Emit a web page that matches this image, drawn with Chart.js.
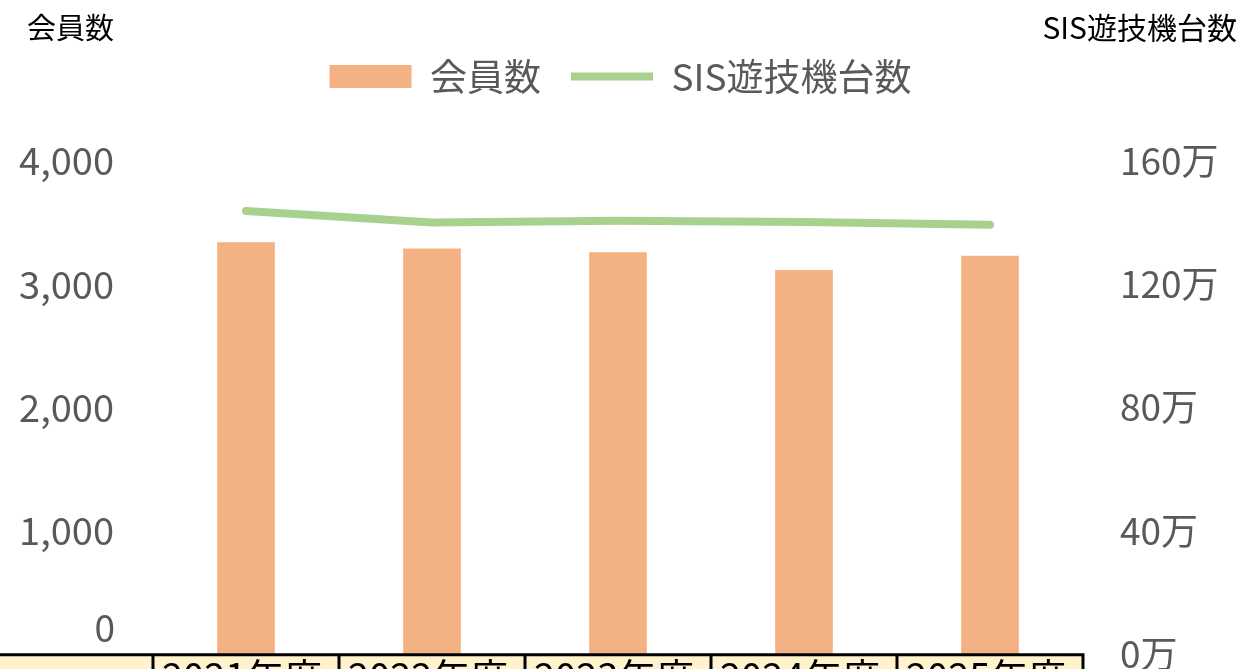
<!DOCTYPE html>
<html>
<head>
<meta charset="utf-8">
<script src="https://cdn.jsdelivr.net/npm/chart.js@4"></script>
<style>
  body { margin: 0; background: #fff; }
  canvas { display: block; }
</style>
</head>
<body>
<canvas id="memberChart" width="1241" height="669"></canvas>
<script>
var years = ['2021年度', '2022年度', '2023年度', '2024年度', '2025年度'];
var members = [3340, 3290, 3260, 3115, 3230];
var machines = [1438000, 1400000, 1406000, 1402000, 1393000];
var leftTicks = [0, 1000, 2000, 3000, 4000];
var rightTicks = [0, 400000, 800000, 1200000, 1600000];

var FONT = "'Noto Sans CJK JP', 'Noto Sans', sans-serif";

// axis captions, the shifted "0" and the half-visible data table at the bottom
var extras = {
  id: 'extras',
  afterDraw: function (chart) {
    var ctx = chart.ctx;
    var x = chart.scales.x;
    ctx.save();
    ctx.fillStyle = '#000';
    ctx.textBaseline = 'middle';
    ctx.textAlign = 'left';
    ctx.font = '29px ' + FONT;
    ctx.fillText('会員数', 27, 28);
    ctx.textAlign = 'right';
    ctx.font = '30px ' + FONT;
    ctx.fillText('SIS遊技機台数', 1237, 28);

    ctx.fillStyle = '#595959';
    ctx.font = '37px ' + FONT;
    ctx.fillText('0', 115, 628);

    var step = x.getPixelForValue(1) - x.getPixelForValue(0);
    var left0 = x.getPixelForValue(0) - step / 2;
    var right = x.getPixelForValue(years.length - 1) + step / 2;
    var top = chart.chartArea.bottom + 1;
    ctx.fillStyle = '#fff2cc';
    ctx.fillRect(0, top, right, 669 - top);

    ctx.fillStyle = '#000';
    ctx.font = '38px ' + FONT;
    ctx.textAlign = 'left';
    ctx.textBaseline = 'top';
    for (var j = 0; j < years.length; j++) {
      ctx.fillText(years[j], x.getPixelForValue(j) - step / 2 + 9, top + 3);
    }

    ctx.strokeStyle = '#000';
    ctx.lineWidth = 3;
    ctx.beginPath();
    ctx.moveTo(0, top);
    ctx.lineTo(right + 1.5, top);
    ctx.moveTo(left0, top);
    ctx.lineTo(left0, 669);
    for (var i = 0; i < years.length; i++) {
      var r = x.getPixelForValue(i) + step / 2;
      ctx.moveTo(r, top);
      ctx.lineTo(r, 669);
    }
    ctx.stroke();
    ctx.restore();
  }
};

var ctx = document.getElementById('memberChart').getContext('2d');
var chart = new Chart(ctx, {
  type: 'bar',
  data: {
    labels: years,
    datasets: [{
      type: 'line',
      label: 'SIS遊技機台数',
      data: machines,
      yAxisID: 'y1',
      borderColor: '#a9d18e',
      backgroundColor: '#a9d18e',
      borderWidth: 8,
      borderCapStyle: 'round',
      borderJoinStyle: 'round',
      pointRadius: 0,
      tension: 0,
      pointStyle: 'line',
      order: 0
    }, {
      label: '会員数',
      data: members,
      yAxisID: 'y',
      backgroundColor: '#f4b183',
      barPercentage: 0.31,
      categoryPercentage: 1,
      pointStyle: 'rect',
      order: 1
    }]
  },
  options: {
    responsive: false,
    animation: false,
    layout: { padding: { top: 28, bottom: 15, left: 0, right: 0 } },
    plugins: {
      legend: {
        position: 'top',
        reverse: true,
        labels: {
          usePointStyle: true,
          pointStyleWidth: 82,
          boxHeight: 23,
          padding: 30,
          color: '#595959',
          font: { family: FONT, size: 37 }
        }
      },
      // empty title used as a spacer between legend and plot
      title: {
        display: true,
        text: '',
        weight: 500,
        padding: { top: 0, bottom: 36 },
        font: { size: 20, lineHeight: 1 }
      },
      tooltip: { enabled: false }
    },
    scales: {
      x: { display: false },
      y: {
        position: 'left',
        min: 0,
        max: 4000,
        afterBuildTicks: function (s) { s.ticks = leftTicks.map(function (v) { return { value: v }; }); },
        afterFit: function (s) { s.width = 153; },
        grid: { display: false, drawTicks: true, tickLength: 39 },
        border: { display: false },
        ticks: {
          padding: 0,
          color: '#595959',
          font: { family: FONT, size: 38, lineHeight: 0.8 },
          callback: function (v) { return v === 0 ? '' : v.toLocaleString('en-US'); }
        }
      },
      y1: {
        position: 'right',
        min: 0,
        max: 1600000,
        afterBuildTicks: function (s) { s.ticks = rightTicks.map(function (v) { return { value: v }; }); },
        afterFit: function (s) { s.width = 158; },
        grid: { display: false, drawTicks: true, tickLength: 37 },
        border: { display: false },
        ticks: {
          padding: 0,
          color: '#595959',
          font: { family: FONT, size: 37, lineHeight: 0.8 },
          callback: function (v) { return (v / 10000) + '万'; }
        }
      }
    }
  },
  plugins: [extras]
});
</script>
</body>
</html>
